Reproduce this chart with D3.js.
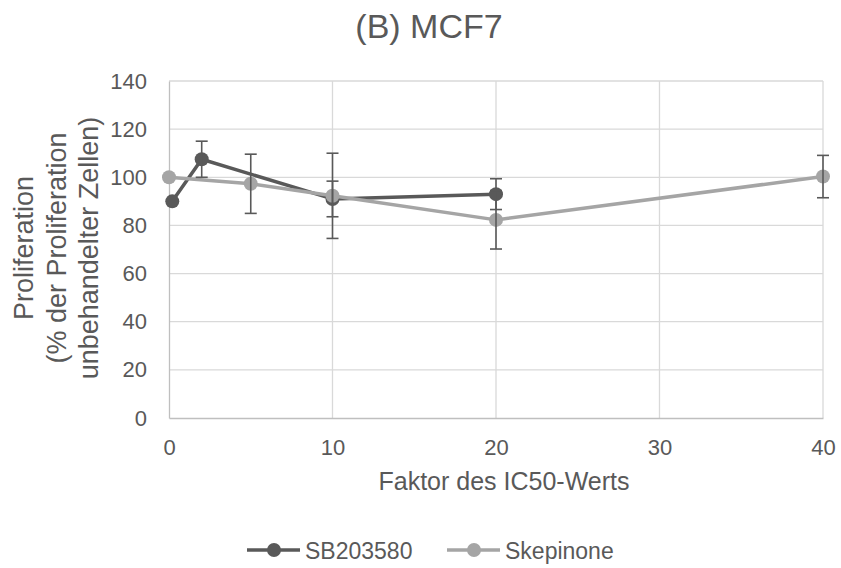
<!DOCTYPE html>
<html>
<head>
<meta charset="utf-8">
<script src="https://cdn.jsdelivr.net/npm/d3@7"></script>
<style>
  html, body { margin: 0; padding: 0; background: #fff; }
  svg { display: block; font-family: "Liberation Sans", Arial, sans-serif; }
</style>
</head>
<body>
<svg id="chart" width="841" height="568"></svg>
<script>
// Proliferation of MCF7 cells vs. multiple of the IC50 value
const chartTitle = "(B) MCF7";
const xTicks = [0, 10, 20, 30, 40];
const yTicks = [0, 20, 40, 60, 80, 100, 120, 140];

const sbX = [0.2, 2, 10, 20];
const sbY = [90, 107.5, 91, 93];
const sbErr = [0, 7.5, 7.4, 6.4];

const skX = [0, 5, 10, 20, 40];
const skY = [100, 97.3, 92.3, 82.3, 100.3];
const skErr = [0, 12.3, 17.7, 12.1, 8.8];

const seriesNames = ["SB203580", "Skepinone"];
const seriesColors = ["#595959", "#a5a5a5"];

const svg = d3.select("#chart");
const plotLeft = 169, plotRight = 823, plotTop = 81, plotBottom = 418;
const textColor = "#595959";

const x = d3.scaleLinear().domain([0, 40]).range([plotLeft, plotRight]);
const y = d3.scaleLinear().domain([0, 140]).range([plotBottom, plotTop]);

// title
svg.append("text").attr("x", 429).attr("y", 38)
  .attr("text-anchor", "middle").attr("font-size", 34).attr("fill", textColor)
  .text(chartTitle);

// gridlines
const grid = svg.append("g");
grid.selectAll("line.h").data(yTicks.filter(d => d > 0)).join("line")
  .attr("class", "h")
  .attr("x1", plotLeft).attr("x2", plotRight)
  .attr("y1", d => y(d)).attr("y2", d => y(d))
  .attr("stroke", "#d9d9d9").attr("stroke-width", 1.3);
grid.selectAll("line.v").data(xTicks.filter(d => d > 0)).join("line")
  .attr("class", "v")
  .attr("y1", plotTop).attr("y2", plotBottom)
  .attr("x1", d => x(d)).attr("x2", d => x(d))
  .attr("stroke", "#d9d9d9").attr("stroke-width", 1.3);

// axes
const yAxis = svg.append("g").attr("transform", `translate(${plotLeft},0)`)
  .call(d3.axisLeft(y).tickValues(yTicks).tickSize(0).tickPadding(22));
const xAxis = svg.append("g").attr("transform", `translate(0,${plotBottom})`)
  .call(d3.axisBottom(x).tickValues(xTicks).tickSize(0).tickPadding(21));
[xAxis, yAxis].forEach(a => {
  a.select(".domain").attr("stroke", "#bfbfbf").attr("stroke-width", 1.3);
  a.selectAll("text").attr("font-size", 22).attr("fill", textColor)
    .attr("font-family", "Liberation Sans, Arial, sans-serif");
});

// axis titles
svg.append("text").attr("x", 504).attr("y", 490)
  .attr("text-anchor", "middle").attr("font-size", 25).attr("fill", textColor)
  .text("Faktor des IC50-Werts");
const yTitle = svg.append("text")
  .attr("transform", `translate(0,248) rotate(-90)`)
  .attr("text-anchor", "middle").attr("font-size", 27).attr("fill", textColor);
["Proliferation", "(% der Proliferation", "unbehandelter Zellen)"].forEach((t, i) => {
  yTitle.append("tspan").attr("x", 0).attr("y", 33 + i * 32.5).text(t);
});

// series
const series = [
  { xs: sbX, ys: sbY, es: sbErr, color: seriesColors[0] },
  { xs: skX, ys: skY, es: skErr, color: seriesColors[1] }
];
const line = d3.line().x(d => x(d.x)).y(d => y(d.y));

series.forEach(s => {
  const pts = s.xs.map((v, i) => ({ x: v, y: s.ys[i], e: s.es[i] }));
  const g = svg.append("g");
  g.append("path").datum(pts).attr("d", line)
    .attr("fill", "none").attr("stroke", s.color).attr("stroke-width", 3.5)
    .attr("stroke-linejoin", "round");
  g.selectAll("circle").data(pts).join("circle")
    .attr("cx", d => x(d.x)).attr("cy", d => y(d.y)).attr("r", 7)
    .attr("fill", s.color);
  s.pts = pts;
});

// error bars on top
series.forEach(s => {
  const eb = svg.append("g").attr("stroke", "#595959").attr("stroke-width", 1.6);
  s.pts.filter(d => d.e > 0).forEach(d => {
    eb.append("line").attr("x1", x(d.x)).attr("x2", x(d.x))
      .attr("y1", y(d.y + d.e)).attr("y2", y(d.y - d.e));
    [d.y + d.e, d.y - d.e].forEach(v => {
      eb.append("line").attr("x1", x(d.x) - 6).attr("x2", x(d.x) + 6)
        .attr("y1", y(v)).attr("y2", y(v));
    });
  });
});

// legend
const legendX = [247, 447];
seriesNames.forEach((name, i) => {
  const g = svg.append("g").attr("transform", `translate(${legendX[i]},550)`);
  g.append("line").attr("x1", 0).attr("x2", 53).attr("y1", 0).attr("y2", 0)
    .attr("stroke", seriesColors[i]).attr("stroke-width", 3.5);
  g.append("circle").attr("cx", 27).attr("cy", 0).attr("r", 7).attr("fill", seriesColors[i]);
  g.append("text").attr("x", 58).attr("y", 9).attr("font-size", 23)
    .attr("fill", textColor).text(name);
});
</script>
</body>
</html>
